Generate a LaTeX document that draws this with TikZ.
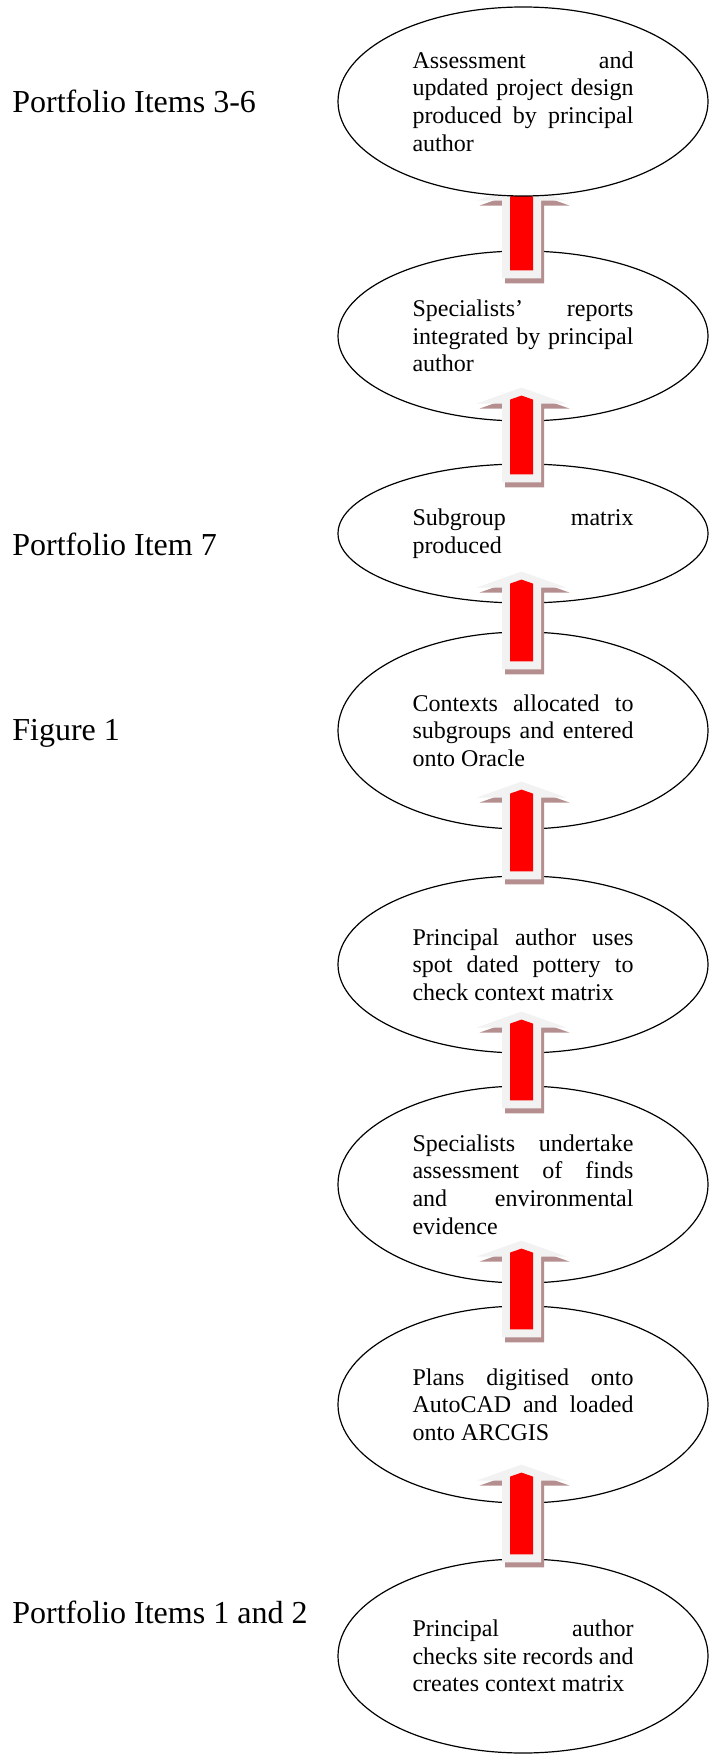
\documentclass[tikz,border=0pt]{standalone}
\usepackage{fontspec}
\setmainfont{Liberation Serif}
\usetikzlibrary{shapes.geometric,calc}

\pgfdeclarelayer{front}
\pgfsetlayers{main,front}

\definecolor{arrowglow}{RGB}{242,242,242}
\definecolor{arrowshade}{RGB}{181,143,143}
\definecolor{arrowred}{RGB}{255,0,0}

\tikzset{
  stage/.style={draw, ellipse, fill=white, line width=0.6pt, minimum width=185pt,
    text width=110.5pt, align=justify, inner sep=0pt,
    font=\fontsize{12}{13.8}\selectfont,
    execute at begin node={\hyphenpenalty=10000\relax\tolerance=10000\relax}},
  side/.style={anchor=base west, inner sep=0pt, font=\fontsize{16}{19}\selectfont}
}

\begin{document}
\begin{tikzpicture}[x=0.5pt, y=-0.5pt]

    \useasboundingbox (0,0) rectangle (716,1754);

    % Top stage (kept above its incoming arrow)
    \begin{pgfonlayer}{front}
    \node (e1) [stage, minimum height=94.5pt] at (523,101.5)
    {Assessment and\linebreak updated project design\linebreak produced by principal\linebreak author};
    \end{pgfonlayer}

    % Remaining stages, stacked downwards
    \node (e2) [stage, node distance=117.25pt, below of=e1, minimum height=85pt]
    {Specialists’ reports\linebreak integrated by principal\linebreak author};
    \node (e3) [stage, node distance=98.75pt, below of=e2, minimum height=69.5pt]
    {Subgroup matrix\linebreak produced};
    \node (e4) [stage, node distance=98.5pt, below of=e3, minimum height=98.5pt]
    {Contexts allocated to\linebreak subgroups and entered\linebreak onto Oracle};
    \node (e5) [stage, node distance=117pt, below of=e4, minimum height=88.5pt]
    {Principal author uses\linebreak spot dated pottery to\linebreak check context matrix};
    \node (e6) [stage, node distance=110pt, below of=e5, minimum height=98.5pt]
    {Specialists undertake\linebreak assessment of finds\linebreak and environmental\linebreak evidence};
    \node (e7) [stage, node distance=110pt, below of=e6, minimum height=98.5pt]
    {Plans digitised onto\linebreak AutoCAD and loaded\linebreak onto ARCGIS};
    \node (e8) [stage, node distance=125.75pt, below of=e7, minimum height=97pt]
    {Principal author\linebreak checks site records and\linebreak creates context matrix};

    % Labels on the left
    \node (items36) [side] at (12,113) {Portfolio Items 3-6};
    \node (item7) [side] at (12,555) {Portfolio Item 7};
    \node (fig1) [side] at (12,740) {Figure 1};
    \node (items12) [side] at (12,1623) {Portfolio Items 1 and 2};

    % Block arrows: shadow, light body, red core
    \foreach \lo/\up/\dt/\db in {e2/e1/-12/28, e3/e2/-34/19, e4/e3/-32/38, e5/e4/-48/4,
                                e6/e5/-42/23, e7/e6/-43/32, e8/e7/-39/4} {
        \coordinate (tip) at ($(\up.south)+(-1.5,\dt)$);
        \coordinate (base) at ($(\lo.north)+(-1.5,\db)$);
        \coordinate (stip) at ($(tip)+(3,5)$);
        \coordinate (sbase) at ($(base)+(3,5)$);
        \fill[arrowshade] (stip) -- ($(stip)+(45,16)$) -- ($(stip)+(19.5,16)$) -- ($(sbase)+(19.5,0)$)
            -- ($(sbase)+(-19.5,0)$) -- ($(stip)+(-19.5,16)$) -- ($(stip)+(-45,16)$) -- cycle;
        \fill[arrowglow] (tip) -- ($(tip)+(45,16)$) -- ($(tip)+(19.5,16)$) -- ($(base)+(19.5,0)$)
            -- ($(base)+(-19.5,0)$) -- ($(tip)+(-19.5,16)$) -- ($(tip)+(-45,16)$) -- cycle;
        \fill[arrowred] ($(tip)+(0,8)$) -- ($(tip)+(11.5,12)$) -- ($(base)+(11.5,-8)$)
            -- ($(base)+(-11.5,-8)$) -- ($(tip)+(-11.5,12)$) -- cycle;
    }

\end{tikzpicture}
\end{document}
